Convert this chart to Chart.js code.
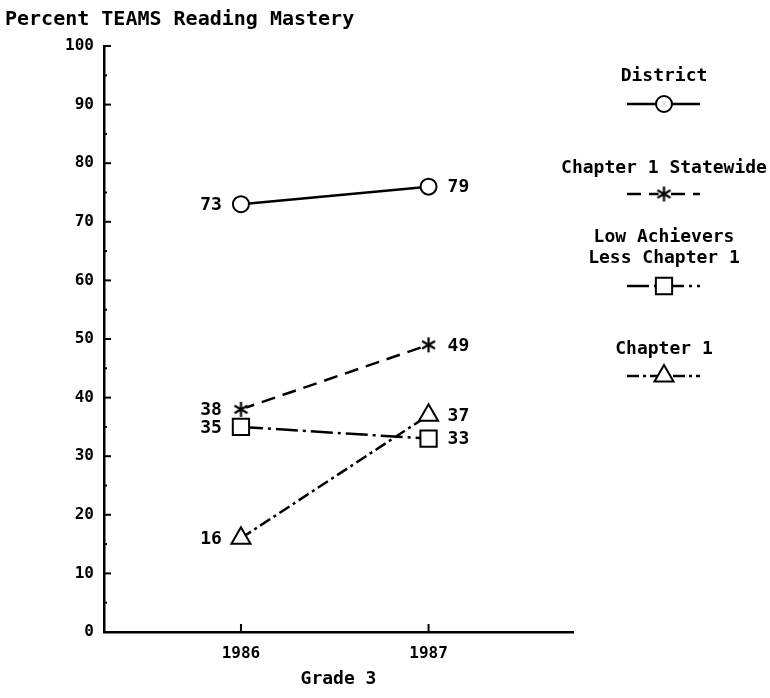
<!DOCTYPE html>
<html>
<head>
<meta charset="utf-8">
<script src="https://cdn.jsdelivr.net/npm/chart.js@4.4.1/dist/chart.umd.min.js"></script>
<style>
  html, body { margin: 0; padding: 0; background: #fff; }
  #wrap { width: 770px; height: 698px; }
</style>
</head>
<body>
<div id="wrap"><canvas id="teamsChart" width="770" height="698"></canvas></div>
<script>
// data
const years = [1986, 1987];
const district = [73, 76];
const districtLabels = ['73', '79'];   // the printed label says 79, the point sits lower
const statewide = [38, 49];
const statewideLabels = ['38', '49'];
const lowAchievers = [35, 33];
const lowAchieversLabels = ['35', '33'];
const chapter1 = [16, 37];
const chapter1Labels = ['16', '37'];
const legendNames = [['District'], ['Chapter 1 Statewide'], ['Low Achievers', 'Less Chapter 1'], ['Chapter 1']];

const FONT = '"DejaVu Sans Mono", "Liberation Mono", monospace';

function toPoints(values) {
    return years.map((yr, i) => ({ x: yr, y: values[i] }));
}

// six armed asterisk used as a point style
function makeAsterisk(size) {
    const c = document.createElement('canvas');
    c.width = size;
    c.height = size;
    const g = c.getContext('2d');
    const m = size / 2, r = size / 2 - 1;
    g.fillStyle = '#fff';
    g.beginPath();
    g.arc(m, m, r - 2, 0, Math.PI * 2);
    g.fill();
    g.strokeStyle = '#000';
    g.lineWidth = 2.2;
    for (let a = 0; a < 3; a++) {
        const ang = Math.PI / 2 + a * Math.PI / 3;
        g.beginPath();
        g.moveTo(m - r * Math.cos(ang), m - r * Math.sin(ang));
        g.lineTo(m + r * Math.cos(ang), m + r * Math.sin(ang));
        g.stroke();
    }
    return c;
}
const asterisk = makeAsterisk(17);

function series(name, values, labels, style, radius, dash) {
    return {
        label: name,
        data: toPoints(values),
        valueLabels: labels,
        borderColor: '#000',
        borderWidth: 2.5,
        borderDash: dash,
        pointStyle: style,
        pointRadius: radius,
        pointBorderWidth: 2,
        pointBorderColor: '#000',
        pointBackgroundColor: '#fff',
        tension: 0,
        fill: false
    };
}

const axisTicks = {
    id: 'axisTicks',
    afterDraw(chart) {
        const { ctx, chartArea, scales: { x, y } } = chart;
        ctx.save();
        ctx.strokeStyle = '#000';
        ctx.lineWidth = 2;
        y.ticks.forEach(t => {
            const py = y.getPixelForValue(t.value);
            const len = t.value % 10 === 0 ? 7 : 3;
            ctx.beginPath();
            ctx.moveTo(chartArea.left, py);
            ctx.lineTo(chartArea.left + len, py);
            ctx.stroke();
        });
        years.forEach(v => {
            const px = x.getPixelForValue(v);
            ctx.beginPath();
            ctx.moveTo(px, chartArea.bottom);
            ctx.lineTo(px, chartArea.bottom - 8);
            ctx.stroke();
        });
        ctx.restore();
    }
};

const valueLabels = {
    id: 'valueLabels',
    afterDatasetsDraw(chart) {
        const ctx = chart.ctx;
        ctx.save();
        ctx.fillStyle = '#000';
        ctx.font = 'bold 18px ' + FONT;
        ctx.textBaseline = 'middle';
        chart.data.datasets.forEach((ds, i) => {
            chart.getDatasetMeta(i).data.forEach((pt, j) => {
                if (j === 0) {
                    ctx.textAlign = 'right';
                    ctx.fillText(ds.valueLabels[j], pt.x - 19, pt.y + 1);
                } else {
                    ctx.textAlign = 'left';
                    ctx.fillText(ds.valueLabels[j], pt.x + 19, pt.y + 1);
                }
            });
        });
        ctx.restore();
    }
};

const sideLegend = {
    id: 'sideLegend',
    afterDraw(chart) {
        const ctx = chart.ctx;
        const cx = 664;
        const textY = [76, 168, 237, 349];
        const sampleY = [104, 194, 286, 376];
        ctx.save();
        chart.data.datasets.forEach((ds, i) => {
            ctx.fillStyle = '#000';
            ctx.font = 'bold 18px ' + FONT;
            ctx.textAlign = 'center';
            ctx.textBaseline = 'middle';
            legendNames[i].forEach((line, k) => ctx.fillText(line, cx, textY[i] + k * 21));
            const sy = sampleY[i];
            ctx.strokeStyle = '#000';
            ctx.lineWidth = ds.borderWidth;
            ctx.setLineDash(ds.borderDash);
            ctx.beginPath();
            ctx.moveTo(627, sy);
            ctx.lineTo(700, sy);
            ctx.stroke();
            ctx.setLineDash([]);
            ctx.fillStyle = '#fff';
            ctx.lineWidth = ds.pointBorderWidth;
            Chart.helpers.drawPoint(ctx, {
                pointStyle: ds.pointStyle,
                radius: ds.pointRadius,
                borderWidth: ds.pointBorderWidth,
                rotation: 0
            }, cx, sy);
        });
        ctx.restore();
    }
};

const ctx = document.getElementById('teamsChart').getContext('2d');
window.teamsChart = new Chart(ctx, {
    type: 'line',
    data: {
        datasets: [
            series('District', district, districtLabels, 'circle', 8, []),
            series('Chapter 1 Statewide', statewide, statewideLabels, asterisk, 8, [14, 8]),
            series('Low Achievers Less Chapter 1', lowAchievers, lowAchieversLabels, 'rect', 11.5, [22, 5, 3, 5]),
            series('Chapter 1', chapter1, chapter1Labels, 'triangle', 11, [12, 4, 3, 4])
        ]
    },
    options: {
        responsive: false,
        animation: false,
        layout: { padding: { left: 5, right: 197, top: 0, bottom: 0 } },
        plugins: {
            legend: { display: false },
            tooltip: { enabled: false },
            title: {
                display: true,
                text: 'Percent TEAMS Reading Mastery',
                align: 'start',
                color: '#000',
                font: { family: FONT, size: 20, weight: 'bold' },
                padding: { top: 8, bottom: 14 }
            }
        },
        scales: {
            x: {
                type: 'linear',
                min: 1985.27,
                max: 1987.77,
                grid: { display: false, drawTicks: false },
                border: { display: true, color: '#000', width: 2.5 },
                afterBuildTicks: s => { s.ticks = years.map(v => ({ value: v })); },
                ticks: {
                    color: '#000',
                    padding: 12,
                    font: { family: FONT, size: 16, weight: 'bold' },
                    callback: v => String(v)
                },
                title: {
                    display: true,
                    text: 'Grade 3',
                    color: '#000',
                    font: { family: FONT, size: 18, weight: 'bold' },
                    padding: { top: 0, bottom: 8 }
                },
                afterFit: s => { s.height = 66; }
            },
            y: {
                min: 0,
                max: 100,
                grid: { display: false, drawTicks: false },
                border: { display: true, color: '#000', width: 2.5 },
                ticks: {
                    stepSize: 5,
                    autoSkip: false,
                    color: '#000',
                    padding: 10,
                    font: { family: FONT, size: 16, weight: 'bold' },
                    callback: v => (v % 10 === 0 ? String(v) : '')
                },
                afterFit: s => { s.width = 99; }
            }
        }
    },
    plugins: [axisTicks, valueLabels, sideLegend]
});
</script>
</body>
</html>
